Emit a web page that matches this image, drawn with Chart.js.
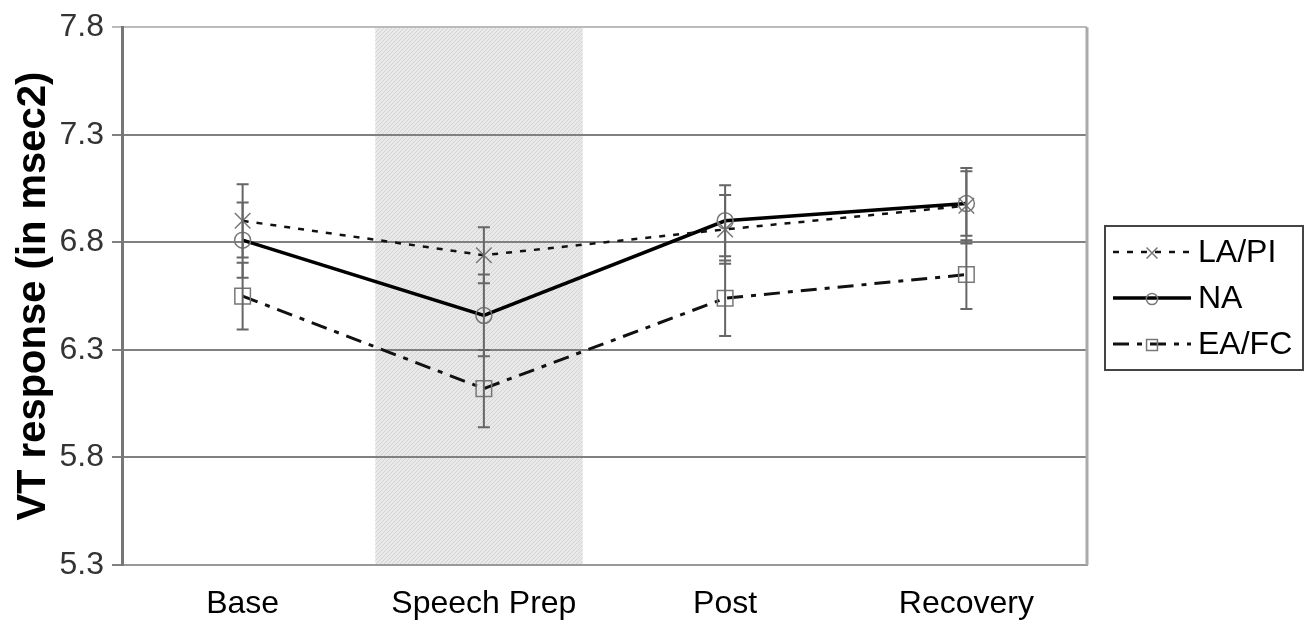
<!DOCTYPE html>
<html lang="en">
<head>
<meta charset="UTF-8">
<title>VT response</title>
<style>
  body { margin: 0; background: #fff; }
  .wrap { position: relative; width: 1311px; height: 635px; }
</style>
</head>
<body>
<div class="wrap"><canvas id="vtChart"></canvas></div>
<script src="https://cdn.jsdelivr.net/npm/chart.js"></script>
<script>
// data
const categories = ['Base', 'Speech Prep', 'Post', 'Recovery'];
const laPi = [6.90, 6.74, 6.86, 6.97];
const laPiErr = [0.17, 0.13, 0.16, 0.175];
const na = [6.81, 6.46, 6.90, 6.98];
const naErr = [0.175, 0.19, 0.165, 0.15];
const eaFc = [6.55, 6.12, 6.54, 6.65];
const eaFcErr = [0.155, 0.18, 0.175, 0.16];
const yTicks = [5.3, 5.8, 6.3, 6.8, 7.3, 7.8];
const shadedCategory = 'Speech Prep';

const FONT = '"Liberation Sans", Arial, sans-serif';

// light hatched fill for the speech prep band
function hatchPattern(ctx) {
    const c = document.createElement('canvas');
    c.width = 4; c.height = 4;
    const p = c.getContext('2d');
    p.fillStyle = '#e9e9e9';
    p.fillRect(0, 0, 4, 4);
    p.strokeStyle = '#d4d4d4';
    p.lineWidth = 1;
    p.beginPath();
    p.moveTo(0, 4); p.lineTo(4, 0);
    p.stroke();
    return ctx.createPattern(c, 'repeat');
}

const bandPlugin = {
    id: 'band',
    beforeDraw(chart) {
        const { ctx, chartArea, scales } = chart;
        const i = categories.indexOf(shadedCategory);
        const step = scales.x.getPixelForValue(1) - scales.x.getPixelForValue(0);
        const cx = scales.x.getPixelForValue(i);
        ctx.save();
        ctx.fillStyle = hatchPattern(ctx);
        ctx.fillRect(cx - step * 0.45, chartArea.top, step * 0.86, chartArea.bottom - chartArea.top);
        ctx.restore();
    }
};

const errorBarPlugin = {
    id: 'errorBars',
    afterDatasetsDraw(chart) {
        const { ctx, scales } = chart;
        ctx.save();
        ctx.strokeStyle = '#666';
        ctx.lineWidth = 2;
        chart.data.datasets.forEach(ds => {
            ds.data.forEach((v, i) => {
                const x = scales.x.getPixelForValue(i);
                const top = scales.y.getPixelForValue(v + ds.errors[i]);
                const bot = scales.y.getPixelForValue(v - ds.errors[i]);
                ctx.beginPath();
                ctx.moveTo(x, top); ctx.lineTo(x, bot);
                ctx.moveTo(x - 6, top); ctx.lineTo(x + 6, top);
                ctx.moveTo(x - 6, bot); ctx.lineTo(x + 6, bot);
                ctx.stroke();
            });
        });
        ctx.restore();
    }
};

const framePlugin = {
    id: 'frame',
    afterDraw(chart) {
        const { ctx, chartArea } = chart;
        ctx.save();
        ctx.strokeStyle = '#aaa';
        ctx.lineWidth = 3;
        ctx.beginPath();
        ctx.moveTo(chartArea.right, chartArea.top);
        ctx.lineTo(chartArea.right, chartArea.bottom);
        ctx.stroke();

        // legend box
        const lx = 1105, ly = 226, lw = 198, lh = 144, rowH = 46;
        ctx.strokeStyle = '#444';
        ctx.lineWidth = 2;
        ctx.strokeRect(lx, ly, lw, lh);
        ctx.font = '32px ' + FONT;
        ctx.textBaseline = 'middle';
        chart.data.datasets.forEach((ds, k) => {
            const y = ly + 26 + k * rowH;
            ctx.strokeStyle = ds.borderColor;
            ctx.lineWidth = ds.borderWidth;
            ctx.setLineDash(ds.borderDash || []);
            ctx.beginPath();
            ctx.moveTo(lx + 8, y); ctx.lineTo(lx + 86, y);
            ctx.stroke();
            ctx.setLineDash([]);
            ctx.strokeStyle = ds.pointBorderColor;
            ctx.fillStyle = 'rgba(0,0,0,0)';
            ctx.lineWidth = ds.pointBorderWidth;
            Chart.helpers.drawPoint(ctx, {
                pointStyle: ds.pointStyle, rotation: 0,
                radius: ds.pointRadius * 0.7, borderWidth: ds.pointBorderWidth
            }, lx + 47, y + 1);
            ctx.fillStyle = '#000';
            ctx.fillText(ds.label, lx + 93, y + 1);
        });
        ctx.restore();
    }
};

new Chart(document.getElementById('vtChart'), {
    type: 'line',
    data: {
        labels: categories,
        datasets: [
            {
                label: 'LA/PI', data: laPi, errors: laPiErr,
                borderColor: '#111', borderWidth: 2.5, borderDash: [6, 8],
                pointStyle: 'crossRot', pointRadius: 11,
                pointBorderColor: '#777', pointBorderWidth: 1.5, pointBackgroundColor: 'rgba(0,0,0,0)'
            },
            {
                label: 'NA', data: na, errors: naErr,
                borderColor: '#000', borderWidth: 3.5,
                pointStyle: 'circle', pointRadius: 8,
                pointBorderColor: '#777', pointBorderWidth: 1.5, pointBackgroundColor: 'rgba(0,0,0,0)'
            },
            {
                label: 'EA/FC', data: eaFc, errors: eaFcErr,
                borderColor: '#111', borderWidth: 3, borderDash: [16, 8, 5, 8],
                pointStyle: 'rect', pointRadius: 11,
                pointBorderColor: '#777', pointBorderWidth: 1.5, pointBackgroundColor: 'rgba(0,0,0,0)'
            }
        ]
    },
    options: {
        responsive: true,
        maintainAspectRatio: false,
        animation: false,
        layout: { padding: { top: 25, right: 224, left: 0, bottom: 0 } },
        plugins: { legend: { display: false }, tooltip: { enabled: false } },
        elements: { line: { tension: 0 } },
        scales: {
            x: {
                offset: true,
                afterFit: s => { s.height = 70; },
                grid: { display: false, drawTicks: false, offset: true },
                border: { display: true, color: '#999', width: 2 },
                ticks: { color: '#000', padding: 20, font: { family: FONT, size: 32 } }
            },
            y: {
                min: 5.3, max: 7.8,
                afterBuildTicks: s => { s.ticks = yTicks.map(v => ({ value: v })); },
                afterFit: s => { s.width = 122; },
                grid: {
                    color: c => (c.tick && c.tick.value === 7.8) ? '#bbb' : '#808080',
                    lineWidth: 2, tickLength: 10
                },
                border: { display: true, color: '#777', width: 3 },
                ticks: {
                    color: '#333', padding: 8,
                    font: { family: FONT, size: 32 },
                    callback: v => Number(v).toFixed(1)
                },
                title: {
                    display: true, text: 'VT response (in msec2)', color: '#000',
                    padding: { top: 10, bottom: 0 },
                    font: { family: FONT, size: 40, weight: 'bold' }
                }
            }
        }
    },
    plugins: [bandPlugin, errorBarPlugin, framePlugin]
});
</script>
</body>
</html>
